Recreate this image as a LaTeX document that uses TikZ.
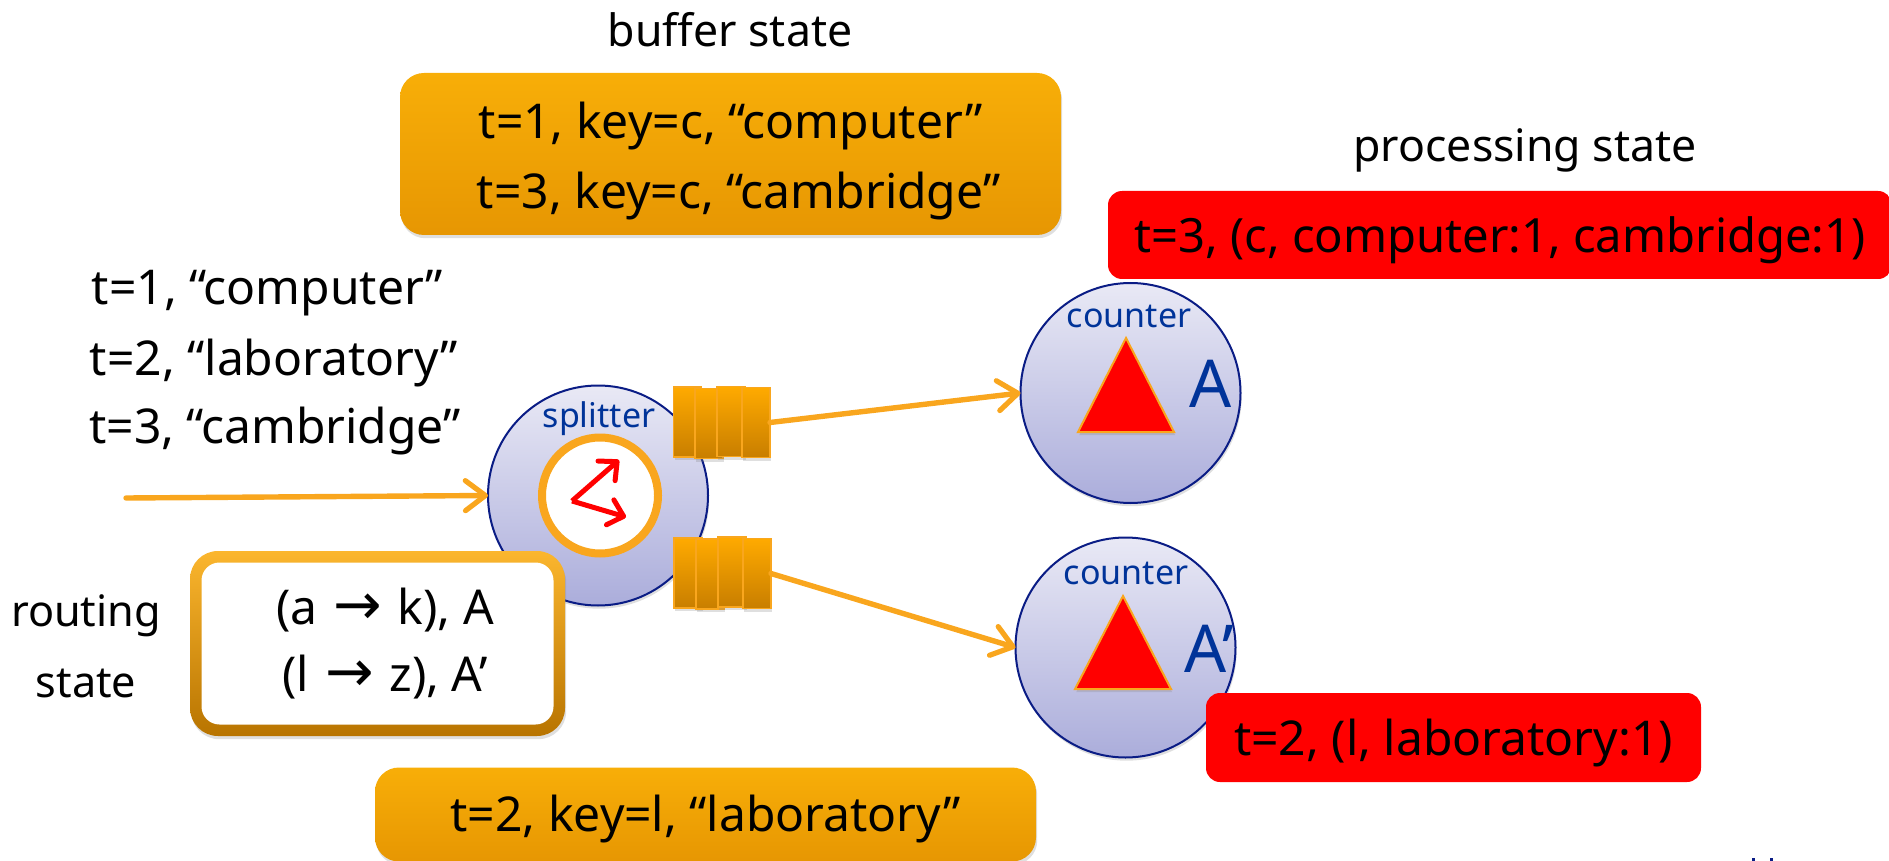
\documentclass[tikz,border=0pt]{standalone}
\usepackage{fontspec}
\setmainfont{Noto Sans}
\newfontfamily\arrowfont{DejaVu Sans}
\usetikzlibrary{arrows.meta,shadows}
\definecolor{flowline}{HTML}{F9A61E}
\definecolor{navyline}{HTML}{0A1C85}
\definecolor{labelblue}{HTML}{003399}
\definecolor{amberedge}{HTML}{BE7A00}
\definecolor{amberlow}{HTML}{DF8C00}
\definecolor{amberhigh}{HTML}{FFB80A}
\definecolor{amberrim}{HTML}{FFE060}
\definecolor{rededge}{HTML}{B0121C}
\definecolor{redrim}{HTML}{FF5A5A}
\definecolor{discalow}{HTML}{ABADDB}
\definecolor{discahigh}{HTML}{E9E9F5}
\definecolor{cellhigh}{HTML}{FFAA00}
\definecolor{celllow}{HTML}{C87E00}
\definecolor{framehigh}{HTML}{FBB62E}
\definecolor{framelow}{HTML}{B87400}
\pgfdeclareverticalshading{amberbevel}{100bp}{color(0bp)=(amberedge); color(3bp)=(amberlow); color(96bp)=(amberhigh); color(100bp)=(amberrim)}
\pgfdeclareverticalshading{redbevel}{100bp}{color(0bp)=(rededge); color(5bp)=(red); color(93bp)=(red); color(100bp)=(redrim)}
\tikzset{
	flow/.style = {draw = flowline, line width = 2.7pt, line cap = round, -{Straight Barb[round, length = 10pt, width = 15pt, line width = 2.6pt]}},
	hashflow/.style = {draw = red, line width = 2.5pt, -{Straight Barb[round, length = 7pt, width = 13pt, line width = 2.5pt]}},
	softshadow/.style = {drop shadow = {shadow xshift = 0.6pt, shadow yshift = -1.6pt, opacity = 0.25}},
	bufferbox/.style = {rounded corners = 12pt, shading = amberbevel, inner sep = 0pt, outer sep = 0pt, softshadow, align = center, font = \fontsize{24}{35}\selectfont},
	outputbox/.style = {rounded corners = 7pt, shading = redbevel, inner sep = 0pt, outer sep = 0pt, text height = 22pt, text depth = 4pt, font = \fontsize{24}{28}\selectfont},
	operator/.style = {circle, minimum size = 110pt, inner sep = 0pt, outer sep = 0pt, draw = navyline, line width = 1pt, top color = discahigh, bottom color = discalow, softshadow},
	queuecell/.style = {minimum width = 14pt, minimum height = 35pt, inner sep = 0pt, outer sep = 0pt, draw = flowline, line width = 0.9pt, top color = cellhigh, bottom color = celllow, softshadow},
	windowtri/.style = {fill = red, draw = flowline, line width = 1pt, softshadow},
	tag/.style = {inner sep = 0pt, anchor = base, text = labelblue, font = \fontsize{17}{20}\selectfont},
	nametag/.style = {inner sep = 0pt, anchor = base west, text = labelblue, font = \fontsize{33}{38}\selectfont},
	plaintext/.style = {inner sep = 0pt, anchor = base, font = \fontsize{24}{28}\selectfont},
	titletext/.style = {plaintext, font = \fontsize{22.3}{26}\selectfont},
}
\newcommand{\routearrow}{\hspace{8pt}{\arrowfont\fontsize{29}{33}\selectfont →}\hspace{8pt}}
\begin{document}
\begin{tikzpicture}[x = 0.5pt, y = -0.5pt]
	\useasboundingbox (0, 0) rectangle (1889, 861);
	\node[titletext] (buffertitle) at (730, 47) {buffer state};
	\node[bufferbox, minimum width = 330.5pt, minimum height = 81pt, text height = 55pt, text depth = 0pt] (bufferhigh) at (730.5, 154) {t=1, key=c, “computer”\\\hspace{8pt}t=3, key=c, “cambridge”};
	\node[titletext] (processtitle) at (1525, 162) {processing state};
	\node[outputbox, minimum width = 392pt, minimum height = 44pt] (windowA) at (1500, 235) {\fontsize{23.6}{28}\selectfont t=3, (c, computer:1, cambridge:1)};
	\node[plaintext] (inputa) at (267.5, 305) {t=1, “computer”};
	\node[plaintext] (inputb) at (274, 375) {t=2, “laboratory”};
	\node[plaintext] (inputc) at (275, 443) {t=3, “cambridge”};
	\coordinate (source) at (126, 498);
	\node[operator] (splitter) at (598, 495.5) {};
	\node[tag] (splittertag) at (599, 427) {splitter};
	\node[circle, minimum size = 58pt, inner sep = 0pt, outer sep = 0pt, draw = flowline, line width = 4pt, fill = white, softshadow] (hash) at (600, 495.5) {};
	\coordinate (hashin) at (572, 501);
	\coordinate (hashup) at (619, 460);
	\coordinate (hashdown) at (626, 517);
	\draw[hashflow] (hashin) -- (hashup);
	\draw[hashflow] (hashin) -- (hashdown);
	\node[queuecell] (qa1) at (687.5, 422) {};
	\node[queuecell] (qa2) at (709, 423.5) {};
	\node[queuecell] (qa3) at (731, 421.5) {};
	\node[queuecell] (qa4) at (756, 422.5) {};
	\node[queuecell] (qb1) at (688, 573) {};
	\node[queuecell] (qb2) at (710, 574) {};
	\node[queuecell] (qb3) at (732, 572) {};
	\node[queuecell] (qb4) at (757, 573.5) {};
	\node[operator] (counterA) at (1130.5, 393) {};
	\node[tag] (counterAtag) at (1129, 328) {counter};
	\coordinate (topA) at (1126, 338);
	\coordinate (leftA) at (1078, 432);
	\coordinate (rightA) at (1174, 432);
	\draw[windowtri] (topA) -- (leftA) -- (rightA) -- cycle;
	\node[nametag] (nameA) at (1189, 407) {A};
	\node[operator] (counterB) at (1125.5, 647.5) {};
	\node[tag] (counterBtag) at (1126, 584) {counter};
	\coordinate (topB) at (1123, 596);
	\coordinate (leftB) at (1075, 689);
	\coordinate (rightB) at (1171, 689);
	\draw[windowtri] (topB) -- (leftB) -- (rightB) -- cycle;
	\begin{scope}
		\clip (1125.5, 647.5) circle (110);
		\node[nametag] (nameB) at (1184, 672) {A’};
	\end{scope}
	\node[outputbox, minimum width = 247.5pt, minimum height = 44.5pt] (windowB) at (1453.5, 737.5) {t=2, (l, laboratory:1)};
	\node[rounded corners = 14pt, top color = framehigh, bottom color = framelow, minimum width = 187.5pt, minimum height = 92.5pt, inner sep = 0pt, outer sep = 0pt, softshadow] (routebox) at (377.5, 643.5) {};
	\node[rounded corners = 9pt, fill = white, minimum width = 176pt, minimum height = 81pt, inner sep = 0pt] (routecell) at (377.5, 643.5) {};
	\node[plaintext, align = center, font = \fontsize{24}{33.5}\selectfont] (routetable) at (385, 691) {(a\routearrow{}k), A\\(l\routearrow{}z), A’};
	\node[plaintext, align = center, font = \fontsize{21.6}{35.5}\selectfont] (routelabel) at (86, 697) {routing\\state};
	\node[bufferbox, minimum width = 330.5pt, minimum height = 47pt, text height = 20.5pt, text depth = 4pt] (bufferlow) at (705.5, 814.5) {t=2, key=l, “laboratory”};
	\draw[flow] (source) -- (splitter.west);
	\draw[flow] (qa4.east) -- (counterA.west);
	\draw[flow] (qb4.east) -- (counterB.west);
	\fill[navyline] (1752, 858) rectangle (1755, 861);
	\fill[navyline] (1770, 858) rectangle (1773, 861);
\end{tikzpicture}
\end{document}
